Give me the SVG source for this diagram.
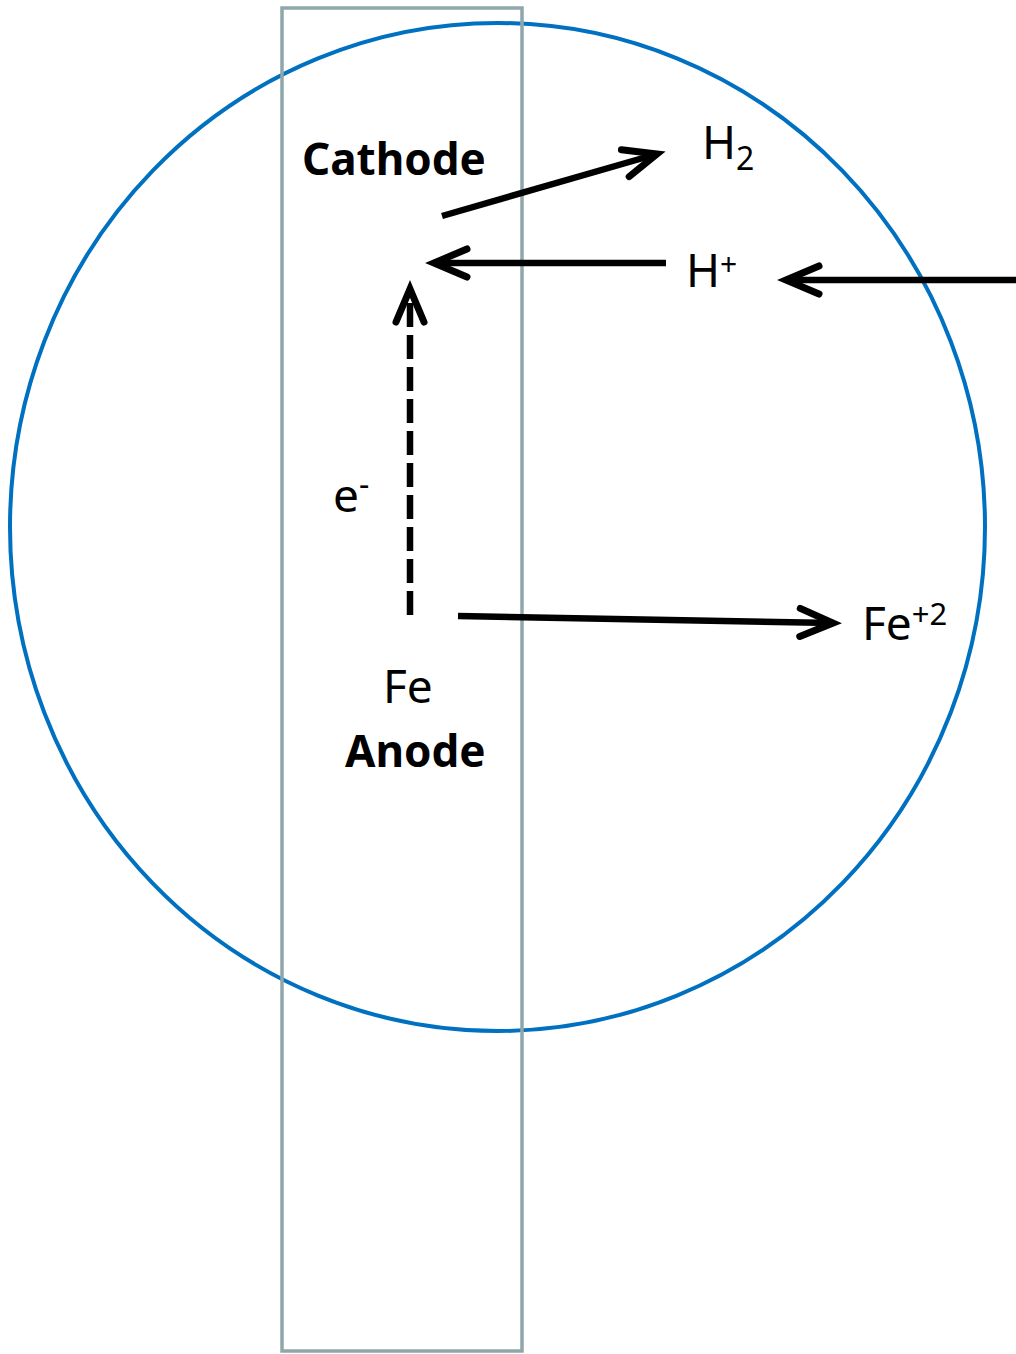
<svg xmlns="http://www.w3.org/2000/svg" width="1016" height="1354" viewBox="0 0 1016 1354">
  <style>
    .lbl { font-family: "Comic Sans MS", "Noto Sans", "DejaVu Sans", sans-serif; fill: #000; }
    .bold { font-weight: bold; }
    .arrow { fill: none; stroke: #000; stroke-width: 6.5; }
  </style>
  <defs>
    <marker id="ah" markerUnits="userSpaceOnUse" markerWidth="44" markerHeight="44" refX="38" refY="22" orient="auto" overflow="visible">
      <path d="M5,8 L38,22 L5,36" fill="none" stroke="#000" stroke-width="7" stroke-linecap="round" stroke-linejoin="miter"/>
    </marker>
  </defs>
  <rect width="1016" height="1354" fill="#fff"/>
  <g id="droplet">
    <ellipse cx="497.5" cy="527" rx="487.5" ry="504" fill="none" stroke="#0070c0" stroke-width="4"/>
  </g>
  <g id="metal-strip">
    <rect x="282" y="8" width="240" height="1343" fill="none" stroke="#8fa6aa" stroke-width="3.5"/>
  </g>
  <g id="connectors">
    <line class="arrow" x1="442" y1="216" x2="657" y2="154" marker-end="url(#ah)"/>
    <line class="arrow" x1="666" y1="263" x2="434" y2="263" marker-end="url(#ah)"/>
    <line class="arrow" x1="1016" y1="280" x2="786" y2="280" marker-end="url(#ah)"/>
    <line class="arrow" x1="410" y1="615" x2="410" y2="289" stroke-dasharray="24 8" marker-end="url(#ah)"/>
    <line class="arrow" x1="458" y1="616" x2="833" y2="623" marker-end="url(#ah)"/>
  </g>
  <g id="cathode">
    <text class="lbl bold" x="302" y="175" font-size="44">Cathode</text>
  </g>
  <g id="h2">
    <text class="lbl" x="702" y="159" font-size="46">H<tspan font-size="32" dy="11">2</tspan></text>
  </g>
  <g id="hplus">
    <text class="lbl" x="686" y="287" font-size="46">H<tspan font-size="30" dy="-12">+</tspan></text>
  </g>
  <g id="electron">
    <text class="lbl" x="333" y="512" font-size="46">e<tspan font-size="32" dy="-16">-</tspan></text>
  </g>
  <g id="fe2plus">
    <text class="lbl" x="862" y="640" font-size="46">Fe<tspan font-size="31" dy="-15">+2</tspan></text>
  </g>
  <g id="anode">
    <text class="lbl" x="383" y="703" font-size="46">Fe</text>
    <text class="lbl bold" x="345" y="767" font-size="44">Anode</text>
  </g>
</svg>
